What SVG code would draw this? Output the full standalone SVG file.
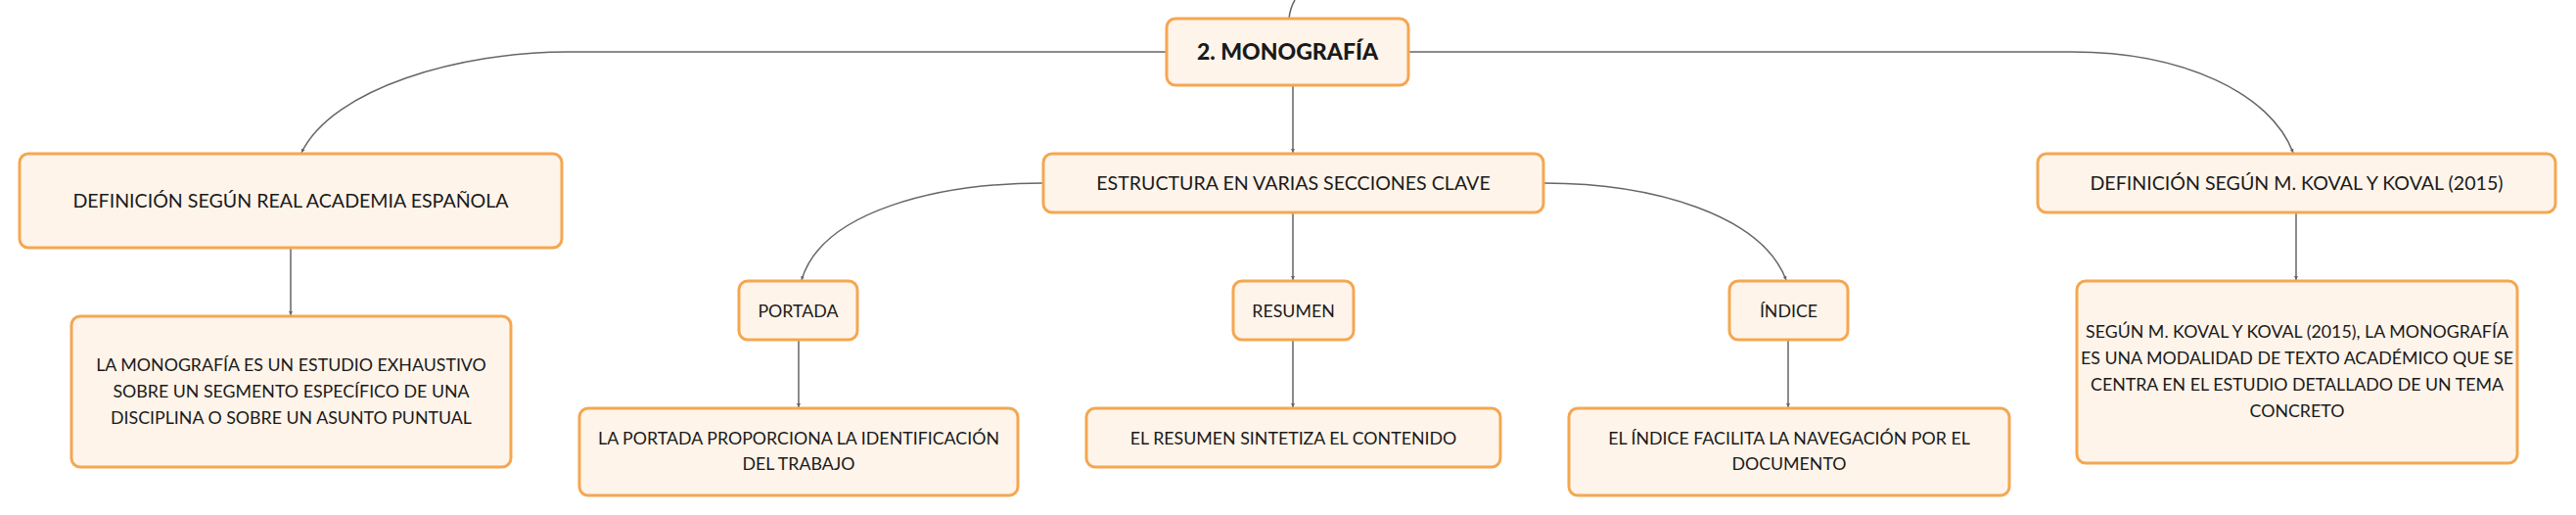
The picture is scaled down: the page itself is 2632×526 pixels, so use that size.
<svg xmlns="http://www.w3.org/2000/svg" width="2632" height="526" viewBox="0 0 2632 526">
<style>
.node rect{fill:#FEF4EA;stroke:#F4A751;stroke-width:3}
.t{font-family:Lato,"Noto Sans","Liberation Sans",sans-serif;fill:#1a1a1a;text-anchor:middle}
.h{font-size:19.6px}
.c{font-size:17.8px}
.m{font-size:23px;font-weight:900}
.conn path{fill:none;stroke:#666;stroke-width:1.5}
</style>
<defs>
<marker id="arr" markerUnits="userSpaceOnUse" markerWidth="5" markerHeight="5" refX="4" refY="2.5" orient="auto">
<path d="M0,0.5 L4,2.5 L0,4.5 z" fill="#666"/>
</marker>
</defs>
<rect width="2632" height="526" fill="#ffffff"/>
<g id="connectors" class="conn">
<path d="M1317,19 C1318,10 1320,5 1323,0"/>
<path d="M1192,53 L580,53 C470,53 340,90 308,156" marker-end="url(#arr)"/>
<path d="M1439,53 L2117,53 C2230,53 2320,95 2343,156" marker-end="url(#arr)"/>
<path d="M1321,87 L1321,156" marker-end="url(#arr)"/>
<path d="M297,253 L297,322" marker-end="url(#arr)"/>
<path d="M2346,217 L2346,286" marker-end="url(#arr)"/>
<path d="M1066,187 C960,187 840,215 819,286" marker-end="url(#arr)"/>
<path d="M1321,217 L1321,286" marker-end="url(#arr)"/>
<path d="M1577,187 C1690,187 1800,220 1825,286" marker-end="url(#arr)"/>
<path d="M816,347 L816,416" marker-end="url(#arr)"/>
<path d="M1321,347 L1321,416" marker-end="url(#arr)"/>
<path d="M1827,347 L1827,416" marker-end="url(#arr)"/>
</g>
<g id="monografia" class="node">
<rect x="1192" y="19" width="247" height="68" rx="9"/>
<text class="t m" x="1315.5" y="61.3">2. MONOGRAFÍA</text>
</g>
<g id="estructura" class="node">
<rect x="1066" y="157" width="511" height="60" rx="9"/>
<text class="t h" x="1321.5" y="194">ESTRUCTURA EN VARIAS SECCIONES CLAVE</text>
</g>
<g id="def-rae" class="node">
<rect x="20" y="157" width="554" height="96" rx="9"/>
<text class="t h" x="297" y="212">DEFINICIÓN SEGÚN REAL ACADEMIA ESPAÑOLA</text>
</g>
<g id="def-rae-texto" class="node">
<rect x="73" y="323" width="449" height="154" rx="9"/>
<text class="t c" x="297.5" y="378.5">LA MONOGRAFÍA ES UN ESTUDIO EXHAUSTIVO</text>
<text class="t c" x="297.5" y="405.5">SOBRE UN SEGMENTO ESPECÍFICO DE UNA</text>
<text class="t c" x="297.5" y="432.5">DISCIPLINA O SOBRE UN ASUNTO PUNTUAL</text>
</g>
<g id="def-koval" class="node">
<rect x="2082" y="157" width="529" height="60" rx="9"/>
<text class="t h" x="2346.5" y="194">DEFINICIÓN SEGÚN M. KOVAL Y KOVAL (2015)</text>
</g>
<g id="def-koval-texto" class="node">
<rect x="2122" y="287" width="450" height="186" rx="9"/>
<text class="t c" x="2347" y="344.5">SEGÚN M. KOVAL Y KOVAL (2015), LA MONOGRAFÍA</text>
<text class="t c" x="2347" y="371.5">ES UNA MODALIDAD DE TEXTO ACADÉMICO QUE SE</text>
<text class="t c" x="2347" y="398.5">CENTRA EN EL ESTUDIO DETALLADO DE UN TEMA</text>
<text class="t c" x="2347" y="425.5">CONCRETO</text>
</g>
<g id="portada" class="node">
<rect x="755" y="287" width="121" height="60" rx="9"/>
<text class="t c" x="815.5" y="323.5">PORTADA</text>
</g>
<g id="portada-texto" class="node">
<rect x="592" y="417" width="448" height="89" rx="9"/>
<text class="t c" x="816" y="453.5">LA PORTADA PROPORCIONA LA IDENTIFICACIÓN</text>
<text class="t c" x="816" y="479.5">DEL TRABAJO</text>
</g>
<g id="resumen" class="node">
<rect x="1260" y="287" width="123" height="60" rx="9"/>
<text class="t c" x="1321.5" y="323.5">RESUMEN</text>
</g>
<g id="resumen-texto" class="node">
<rect x="1110" y="417" width="423" height="60" rx="9"/>
<text class="t c" x="1321.5" y="453.5">EL RESUMEN SINTETIZA EL CONTENIDO</text>
</g>
<g id="indice" class="node">
<rect x="1767" y="287" width="121" height="60" rx="9"/>
<text class="t c" x="1827.5" y="323.5">ÍNDICE</text>
</g>
<g id="indice-texto" class="node">
<rect x="1603" y="417" width="450" height="89" rx="9"/>
<text class="t c" x="1828" y="453.5">EL ÍNDICE FACILITA LA NAVEGACIÓN POR EL</text>
<text class="t c" x="1828" y="479.5">DOCUMENTO</text>
</g>
</svg>
